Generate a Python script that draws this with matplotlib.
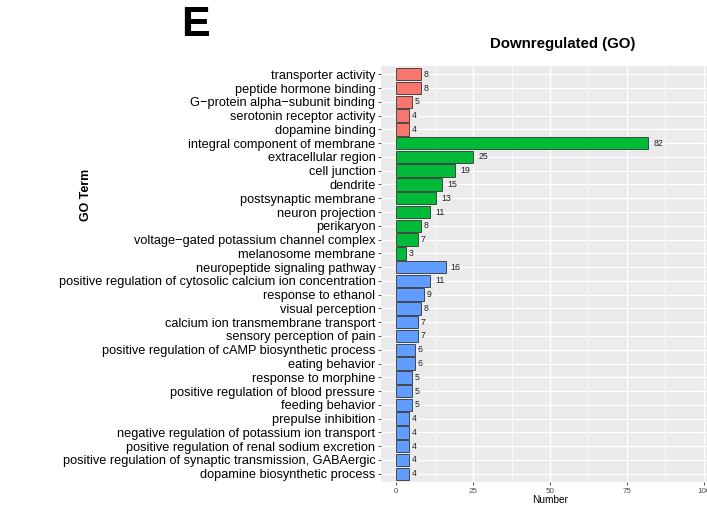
import matplotlib.pyplot as plt
import matplotlib.ticker as mticker

plt.rcParams['font.family'] = ['Liberation Sans', 'DejaVu Sans']

# GO terms, top to bottom
terms = ['transporter activity', 'peptide hormone binding',
         'G\u2212protein alpha\u2212subunit binding', 'serotonin receptor activity',
         'dopamine binding',
         'integral component of membrane', 'extracellular region', 'cell junction',
         'dendrite', 'postsynaptic membrane', 'neuron projection', 'perikaryon',
         'voltage\u2212gated potassium channel complex', 'melanosome membrane',
         'neuropeptide signaling pathway',
         'positive regulation of cytosolic calcium ion concentration',
         'response to ethanol', 'visual perception',
         'calcium ion transmembrane transport', 'sensory perception of pain',
         'positive regulation of cAMP biosynthetic process', 'eating behavior',
         'response to morphine', 'positive regulation of blood pressure',
         'feeding behavior', 'prepulse inhibition',
         'negative regulation of potassium ion transport',
         'positive regulation of renal sodium excretion',
         'positive regulation of synaptic transmission, GABAergic',
         'dopamine biosynthetic process']
counts = [8, 8, 5, 4, 4,
          82, 25, 19, 15, 13, 11, 8, 7, 3,
          16, 11, 9, 8, 7, 7, 6, 6, 5, 5, 5, 4, 4, 4, 4, 4]
groups = ['MF'] * 5 + ['CC'] * 9 + ['BP'] * 16
group_colors = {'MF': '#F8766D', 'CC': '#00BA38', 'BP': '#619CFF'}

fig = plt.figure(figsize=(7.07, 5.07), dpi=100)
ax = fig.add_axes([381 / 707, 1 - 482 / 507, 338 / 707, 416 / 507])
ax.set_facecolor('#EBEBEB')

n = len(terms)
ypos = [n - 1 - i for i in range(n)]
ax.barh(ypos, counts, height=0.9, color=[group_colors[g] for g in groups],
        edgecolor='#333333', linewidth=0.6, zorder=3)

for y, c in zip(ypos, counts):
    ax.annotate(str(c), (c, y), xytext=(1.7 * len(str(c)) + 0.3, 0),
                textcoords='offset points', ha='left', va='center',
                fontsize=6.3, color='#222222', zorder=4)

ax.set_xlim(-5, 105)
ax.set_ylim(-0.6, n - 0.4)
ax.set_xticks([0, 25, 50, 75, 100])
ax.xaxis.set_minor_locator(mticker.FixedLocator([12.5, 37.5, 62.5, 87.5]))
ax.set_yticks(ypos)
ax.set_yticklabels(terms, fontsize=9.2, color='black')
ax.tick_params(axis='y', length=2.5, width=0.6, color='#333333', pad=1.5)
ax.tick_params(axis='x', which='major', length=2.5, width=0.6, color='#333333',
               labelsize=5.8, labelcolor='#4D4D4D', pad=1.5)
ax.tick_params(axis='x', which='minor', length=0)

ax.grid(True, which='major', color='white', linewidth=1.0, zorder=0)
ax.grid(True, which='minor', axis='x', color='white', linewidth=0.5, zorder=0)
ax.set_axisbelow(True)
for s in ax.spines.values():
    s.set_visible(False)

fig.text(563 / 707, 1 - 44 / 507, 'Downregulated (GO)', ha='center', va='center',
         fontsize=10.8, fontweight='bold')
fig.text(195 / 707, 1 - 25 / 507, 'E', ha='center', va='center',
         fontsize=31, fontweight='bold')
fig.text(86 / 707, 1 - 195 / 507, 'GO Term', ha='center', va='center',
         rotation=90, fontsize=8.9, fontweight='bold')
fig.text(550 / 707, 1 - 500 / 507, 'Number', ha='center', va='center',
         fontsize=7.3)

fig.savefig('out.png', dpi=100)
